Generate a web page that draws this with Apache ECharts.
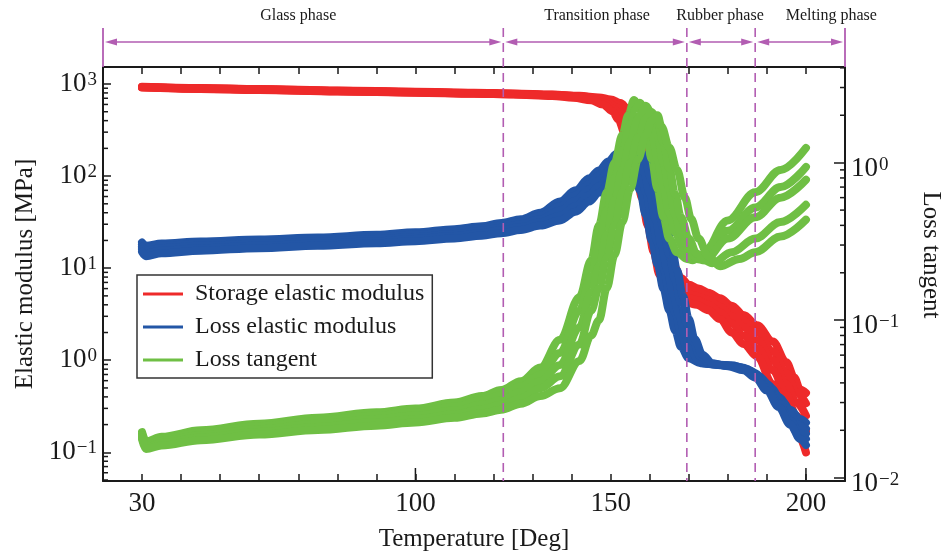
<!DOCTYPE html>
<html>
<head>
<meta charset="utf-8">
<script src="https://cdn.jsdelivr.net/npm/echarts@6/dist/echarts.min.js"></script>
<style>
  html, body { margin: 0; padding: 0; background: #ffffff; }
  #chart { width: 946px; height: 556px; }
</style>
</head>
<body>
<div id="chart"></div>
<script>
// ---- Measured data: [temperature (deg), value], five runs per quantity ----

// Storage elastic modulus [MPa]
const storage0 = [[30,935],[45,905],[60,880],[80,850],[100,825],[115,805],[125,790],[135,770],[142,745],[147,715],[150,680],[152.5,620],[154.5,530],[156,420],[157.5,300],[159,190],[160.5,105],[162,55],[163.5,28],[165,15],[166.5,10],[168,7.8],[170,6.6],[172.5,6.0],[175,5.4],[178,4.7],[181,3.9],[184,3.1],[187.5,2.4],[191.5,1.6],[195,0.95],[197,0.65],[198.5,0.48],[200,0.44]];
const storage1 = [[30,930],[45,900],[60,875],[80,845],[100,820],[115,800],[125,785],[135,765],[142,738],[146.5,705],[149.5,660],[152,590],[153.5,500],[155,390],[156.5,270],[158,165],[159.5,90],[161,46],[162.5,24],[164,13],[165.5,8.8],[167,7],[169,6.1],[172,5.6],[175,5.0],[178,4.3],[181,3.5],[184,2.7],[187.5,2.0],[191.5,1.25],[195,0.72],[197.5,0.45],[200,0.34]];
const storage2 = [[30,925],[45,895],[60,870],[80,840],[100,815],[115,795],[125,780],[135,758],[141.5,730],[146,695],[149,640],[151.5,560],[153,470],[154.5,360],[156,245],[157.5,145],[159,78],[160.5,40],[162,20],[163.5,11],[165,7.5],[166.5,6.2],[168.5,5.5],[172,5.0],[175,4.5],[178,3.8],[181,3.0],[184,2.3],[187.5,1.65],[191.5,1.0],[195,0.55],[197.5,0.35],[200,0.25]];
const storage3 = [[30,920],[45,890],[60,865],[80,835],[100,810],[115,790],[125,775],[135,750],[141,720],[145.5,680],[148.5,620],[151,530],[152.5,440],[154,330],[155.5,220],[157,130],[158.5,68],[160,34],[161.5,17],[163,9.5],[164.5,6.6],[166,5.6],[168,5.0],[172,4.5],[175,4.0],[178,3.3],[181,2.5],[184,1.85],[187.5,1.35],[191.5,0.78],[195,0.42],[197.5,0.25],[200,0.17]];
const storage4 = [[30,915],[45,885],[60,860],[80,830],[100,805],[115,785],[125,768],[135,742],[140.5,710],[145,665],[148,600],[150.5,505],[152,410],[153.5,300],[155,195],[156.5,112],[158,58],[159.5,29],[161,15],[162.5,8.5],[164,6],[165.5,5.1],[167.5,4.6],[172,4.0],[175,3.5],[178,2.8],[181,2.0],[184,1.5],[187.5,1.1],[191.5,0.55],[195,0.31],[197.5,0.17],[200,0.1]];

// Loss elastic modulus [MPa]
const loss0 = [[30,19],[31,17.5],[35,18.5],[45,19.5],[60,20.5],[75,21.5],[90,23],[100,24.5],[110,26.5],[117,28.5],[122,31],[127,34],[132,40],[137,53],[141,70],[144.5,95],[147,115],[149.5,145],[151.5,175],[153,185],[154.5,170],[156,120],[157.5,70],[159,38],[160.5,20],[162,11],[163.5,6],[165,3.5],[166.5,2.1],[168,1.4],[170,1.05],[173,0.93],[177,0.9],[181,0.88],[184,0.83],[187,0.72],[190,0.55],[193,0.4],[196,0.29],[198.5,0.23],[200,0.21]];
const loss1 = [[30,18],[31,16.5],[35,17.5],[45,18.5],[60,19.5],[75,20.5],[90,21.8],[100,23],[110,25],[117,27],[122,29],[127,32],[132,37],[137,47],[141,62],[144.5,82],[147,102],[150,135],[152.5,165],[154.5,183],[156,165],[157.5,115],[159,68],[160.5,36],[162,19],[163.5,10],[165,5.5],[166.5,3.3],[168,2.0],[169.5,1.35],[171.5,1.02],[174,0.92],[178,0.89],[182,0.86],[185,0.8],[188,0.67],[191,0.5],[194,0.35],[197,0.24],[199,0.19],[200,0.18]];
const loss2 = [[30,17],[31,15.5],[35,16.5],[45,17.5],[60,18.5],[75,19.5],[90,20.7],[100,21.8],[110,23.5],[117,25.5],[122,27.5],[127,30],[132,34],[137,42],[141,54],[144.5,72],[147,90],[150,118],[153,155],[155.5,180],[157,160],[158.5,110],[160,65],[161.5,34],[163,18],[164.5,9.5],[166,5.2],[167.5,3.1],[169,1.9],[170.5,1.3],[172.5,1.0],[175,0.91],[179,0.88],[183,0.84],[186,0.76],[189,0.6],[192,0.43],[195,0.3],[198,0.2],[200,0.16]];
const loss3 = [[30,16],[31,14.5],[35,15.5],[45,16.5],[60,17.5],[75,18.5],[90,19.6],[100,20.7],[110,22.3],[117,24],[122,25.8],[127,28],[132,31.5],[137,37],[141,47],[144.5,62],[147,78],[150,102],[153,135],[156,172],[157.5,178],[159,140],[160.5,90],[162,50],[163.5,27],[165,14],[166.5,7.5],[168,4.2],[169.5,2.5],[171,1.6],[173,1.1],[175.5,0.92],[180,0.87],[184,0.8],[187,0.68],[190,0.5],[193,0.34],[196,0.22],[198.5,0.16],[200,0.14]];
const loss4 = [[30,15],[31,13.5],[35,14.5],[45,15.5],[60,16.5],[75,17.5],[90,18.6],[100,19.6],[110,21],[117,22.5],[122,24],[127,26],[132,29],[137,33],[141,41],[144.5,53],[147,66],[150,88],[153,118],[156,155],[158,175],[159.5,160],[161,115],[162.5,65],[164,35],[165.5,18],[167,9.5],[168.5,5],[170,2.8],[171.5,1.7],[173.5,1.15],[176,0.93],[180,0.86],[184,0.78],[187,0.65],[190,0.47],[193,0.31],[196,0.2],[198.5,0.14],[200,0.12]];

// Loss tangent
const tangent0 = [[30,0.0195],[31,0.017],[35,0.0182],[45,0.02],[60,0.022],[75,0.024],[90,0.026],[100,0.0275],[110,0.03],[117,0.033],[122,0.036],[127,0.041],[132,0.05],[137,0.075],[142,0.14],[145,0.24],[147,0.4],[149,0.65],[151,1.0],[153,1.5],[154.5,2.0],[156,2.5],[157.5,2.2],[159,1.6],[160.5,1.05],[162,0.68],[163.5,0.45],[165,0.33],[167,0.27],[169.5,0.245],[171,0.24],[173.5,0.26],[180,0.43],[187,0.65],[193.5,0.9],[200,1.24]];
const tangent1 = [[30,0.019],[31,0.0165],[35,0.0177],[45,0.0193],[60,0.0212],[75,0.023],[90,0.0248],[100,0.026],[110,0.0282],[117,0.031],[122,0.0335],[127,0.038],[132,0.045],[137,0.062],[142,0.115],[145,0.19],[147,0.3],[149,0.5],[151,0.8],[153,1.2],[155,1.75],[156.5,2.2],[157.5,2.4],[159,2.1],[160.5,1.55],[162,1.05],[163.5,0.7],[165,0.48],[166.5,0.36],[168.5,0.29],[170.5,0.255],[172,0.25],[180,0.37],[187,0.52],[193.5,0.7],[200,0.94]];
const tangent2 = [[30,0.0185],[31,0.016],[35,0.0171],[45,0.0186],[60,0.0203],[75,0.022],[90,0.0236],[100,0.0248],[110,0.0267],[117,0.029],[122,0.031],[127,0.035],[132,0.041],[137,0.052],[142,0.09],[145,0.15],[147,0.22],[149,0.35],[151,0.58],[153,0.9],[155,1.35],[157,1.9],[159,2.3],[160.5,2.05],[162,1.5],[163.5,1.0],[165,0.68],[166.5,0.47],[168,0.35],[170,0.28],[172,0.245],[174,0.24],[180,0.33],[187,0.45],[193.5,0.6],[200,0.78]];
const tangent3 = [[30,0.018],[31,0.0156],[35,0.0166],[45,0.018],[60,0.0195],[75,0.021],[90,0.0225],[100,0.0236],[110,0.0253],[117,0.0272],[122,0.029],[127,0.032],[132,0.037],[137,0.044],[142,0.07],[145,0.115],[147,0.16],[149,0.25],[151,0.4],[153,0.65],[155,1.0],[157,1.45],[159,1.9],[160.5,2.1],[162,1.85],[163.5,1.35],[165,0.92],[166.5,0.63],[168,0.45],[170,0.33],[172,0.265],[174,0.24],[176,0.23],[181,0.27],[187,0.33],[193.5,0.42],[200,0.54]];
const tangent4 = [[30,0.0175],[31,0.0152],[35,0.016],[45,0.0173],[60,0.0188],[75,0.0201],[90,0.0214],[100,0.0224],[110,0.024],[117,0.0256],[122,0.027],[127,0.0295],[132,0.033],[137,0.037],[142,0.055],[145,0.08],[147,0.1],[149,0.16],[151,0.26],[153,0.42],[155,0.68],[157,1.05],[159,1.5],[160.5,1.85],[162,2.0],[163,1.7],[165,1.25],[167,0.9],[169,0.6],[170.6,0.44],[172.5,0.33],[175,0.254],[178,0.22],[183,0.245],[187,0.27],[193.5,0.34],[200,0.435]];

// ---- Axes and annotations ----
const xLabelValues = [30, 100, 150, 200];
const xLongTicks = [100, 200];
const leftMinorTicks = [0.05,0.06,0.07,0.08,0.09, 0.2,0.3,0.4,0.5,0.6,0.7,0.8,0.9, 2,3,4,5,6,7,8,9, 20,30,40,50,60,70,80,90, 200,300,400,500,600,700,800,900];
const rightMinorTicks = [0.02,0.03,0.04,0.05,0.06,0.07,0.08,0.09, 0.2,0.3,0.4,0.5,0.6,0.7,0.8,0.9, 2,3,4];

const phaseNames = ['Glass phase', 'Transition phase', 'Rubber phase', 'Melting phase'];
const phaseEdges = [20, 122.5, 169.5, 187, 210];
const phaseLabelAt = [70, 146.5, 178, 206.5];

const SERIES_NAMES = ['Storage elastic modulus', 'Loss elastic modulus', 'Loss tangent'];
const COLORS = ['#ee2a2a', '#2356a6', '#6fbf44'];
const PHASE_COLOR = '#b25db2';
const INK = '#1a1a1a';
const SERIF = '"Liberation Serif", "Times New Roman", serif';

function powerLabel(v) {
  const lg = Math.log10(v);
  const e = Math.round(lg);
  if (Math.abs(lg - e) > 1e-6) return '';
  return '{b|10}{s|' + (e < 0 ? '\u2212' + (-e) : String(e)) + '}';
}
const powerRich = {
  b: { fontFamily: SERIF, fontSize: 27, color: INK },
  s: { fontFamily: SERIF, fontSize: 19, color: INK, verticalAlign: 'top', padding: [0, 0, 8, 1] }
};

function curve(name, data, color, yAxisIndex) {
  return {
    type: 'line', name: name, data: data, yAxisIndex: yAxisIndex,
    symbol: 'none', smooth: 0.35, smoothMonotone: 'x',
    lineStyle: { color: color, width: 8, cap: 'round', join: 'round' },
    itemStyle: { color: color },
    emphasis: { disabled: true }, z: 2
  };
}

const series = [];
[storage0, storage1, storage2, storage3, storage4].forEach(d => series.push(curve(SERIES_NAMES[0], d, COLORS[0], 0)));
[loss0, loss1, loss2, loss3, loss4].forEach(d => series.push(curve(SERIES_NAMES[1], d, COLORS[1], 0)));
[tangent0, tangent1, tangent2, tangent3, tangent4].forEach(d => series.push(curve(SERIES_NAMES[2], d, COLORS[2], 1)));

// Log minor ticks on the left axis (pointing inwards)
series.push({
  type: 'custom', yAxisIndex: 0, silent: true, clip: false, z: 5,
  data: leftMinorTicks.map(v => [v]), encode: { y: 0 },
  renderItem: function (params, api) {
    const cs = params.coordSys;
    const y = api.coord([phaseEdges[0], api.value(0)])[1];
    return { type: 'line', shape: { x1: cs.x, y1: y, x2: cs.x + 5, y2: y }, style: { stroke: INK, lineWidth: 1.5 } };
  }
});
// Log minor ticks on the right axis
series.push({
  type: 'custom', yAxisIndex: 1, silent: true, clip: false, z: 5,
  data: rightMinorTicks.map(v => [v]), encode: { y: 0 },
  renderItem: function (params, api) {
    const cs = params.coordSys;
    const y = api.coord([phaseEdges[0], api.value(0)])[1];
    const xr = cs.x + cs.width;
    return { type: 'line', shape: { x1: xr - 5, y1: y, x2: xr, y2: y }, style: { stroke: INK, lineWidth: 1.5 } };
  }
});
// Longer ticks on the temperature axis
series.push({
  type: 'custom', yAxisIndex: 0, silent: true, clip: false, z: 5,
  data: xLongTicks.map(v => [v]), encode: { x: 0 },
  renderItem: function (params, api) {
    const cs = params.coordSys;
    const x = api.coord([api.value(0), 1])[0];
    const yb = cs.y + cs.height;
    return { type: 'line', shape: { x1: x, y1: yb, x2: x, y2: yb - 13 }, style: { stroke: INK, lineWidth: 1.5 } };
  }
});
// Phase boundaries, arrows and phase names above the plot
series.push({
  type: 'custom', yAxisIndex: 0, silent: true, clip: false, z: 6,
  data: phaseNames.map((n, i) => [phaseEdges[i], phaseEdges[i + 1], phaseLabelAt[i]]),
  encode: { x: [0, 1, 2] },
  renderItem: function (params, api) {
    const i = params.dataIndex;
    const cs = params.coordSys;
    const x0 = api.coord([api.value(0), 1])[0];
    const x1 = api.coord([api.value(1), 1])[0];
    const xl = api.coord([api.value(2), 1])[0];
    const top = cs.y - 39, ay = cs.y - 25, bottom = cs.y + cs.height;
    const kids = [];
    if (i === 0) {
      kids.push({ type: 'line', shape: { x1: x0, y1: top, x2: x0, y2: cs.y }, style: { stroke: PHASE_COLOR, lineWidth: 1.8 } });
    } else {
      kids.push({ type: 'line', shape: { x1: x0, y1: top, x2: x0, y2: bottom }, style: { stroke: PHASE_COLOR, lineWidth: 1.6, lineDash: [9, 6] } });
    }
    if (i === phaseNames.length - 1) {
      kids.push({ type: 'line', shape: { x1: x1, y1: top, x2: x1, y2: cs.y }, style: { stroke: PHASE_COLOR, lineWidth: 1.8 } });
    }
    const a = x0 + 2, b = x1 - 2;
    kids.push({ type: 'line', shape: { x1: a + 4, y1: ay, x2: b - 4, y2: ay }, style: { stroke: PHASE_COLOR, lineWidth: 1.6 } });
    kids.push({ type: 'polygon', shape: { points: [[a, ay], [a + 12, ay - 3.5], [a + 12, ay + 3.5]] }, style: { fill: PHASE_COLOR } });
    kids.push({ type: 'polygon', shape: { points: [[b, ay], [b - 12, ay - 3.5], [b - 12, ay + 3.5]] }, style: { fill: PHASE_COLOR } });
    kids.push({ type: 'text', x: xl, y: cs.y - 51, style: { text: phaseNames[i], fontFamily: SERIF, fontSize: 16, fill: INK, align: 'center', verticalAlign: 'middle' } });
    return { type: 'group', children: kids };
  }
});

const chart = echarts.init(document.getElementById('chart'), null, { renderer: 'canvas' });
chart.setOption({
  animation: false,
  backgroundColor: '#ffffff',
  grid: { left: 103, right: 101, top: 67, bottom: 75, containLabel: false, outerBoundsMode: 'none' },
  legend: {
    data: SERIES_NAMES,
    left: 137, top: 275, orient: 'vertical',
    icon: 'rect', itemWidth: 40, itemHeight: 3, itemGap: 9,
    padding: [7, 8, 6, 6],
    borderColor: '#333', borderWidth: 1.5, backgroundColor: '#ffffff',
    textStyle: { fontFamily: SERIF, fontSize: 24, color: INK, padding: [0, 0, 0, 7] },
    selectedMode: false
  },
  xAxis: [
    {
      type: 'value', position: 'bottom', min: phaseEdges[0], max: phaseEdges[phaseEdges.length - 1], interval: 10,
      name: 'Temperature [Deg]', nameLocation: 'middle', nameGap: 46,
      nameTextStyle: { fontFamily: SERIF, fontSize: 25, color: INK },
      axisLine: { lineStyle: { color: INK, width: 2 } },
      axisTick: { inside: true, length: 7, lineStyle: { color: INK, width: 1.5 } },
      axisLabel: {
        fontFamily: SERIF, fontSize: 27, color: INK, margin: 9,
        formatter: v => (xLabelValues.indexOf(v) >= 0 ? String(v) : '')
      },
      splitLine: { show: false }
    },
    {
      type: 'value', position: 'top', min: phaseEdges[0], max: phaseEdges[phaseEdges.length - 1], interval: 10,
      axisLine: { lineStyle: { color: INK, width: 2 } },
      axisTick: { inside: true, length: 7, lineStyle: { color: INK, width: 1.5 } },
      axisLabel: { show: false },
      splitLine: { show: false }
    }
  ],
  yAxis: [
    {
      type: 'log', logBase: 10, position: 'left', min: 0.0488, max: 1530,
      name: 'Elastic modulus [MPa]', nameLocation: 'middle', nameGap: 63,
      nameTextStyle: { fontFamily: SERIF, fontSize: 25, color: INK },
      axisLine: { show: true, lineStyle: { color: INK, width: 2 } },
      axisTick: { inside: true, length: 8, lineStyle: { color: INK, width: 1.5 } },
      axisLabel: { margin: 6, formatter: powerLabel, rich: powerRich },
      splitLine: { show: false }
    },
    {
      type: 'log', logBase: 10, position: 'right', min: 0.00953, max: 4.05,
      name: 'Loss tangent', nameLocation: 'middle', nameGap: 73, nameRotate: -90,
      nameTextStyle: { fontFamily: SERIF, fontSize: 25, color: INK, padding: [0, 38, 0, 0] },
      axisLine: { show: true, lineStyle: { color: INK, width: 2 } },
      axisTick: { inside: true, length: 11, lineStyle: { color: INK, width: 1.5 } },
      axisLabel: { margin: 6, formatter: powerLabel, rich: powerRich, padding: [12, 0, 0, 0] },
      splitLine: { show: false }
    }
  ],
  series: series
});
</script>
</body>
</html>
